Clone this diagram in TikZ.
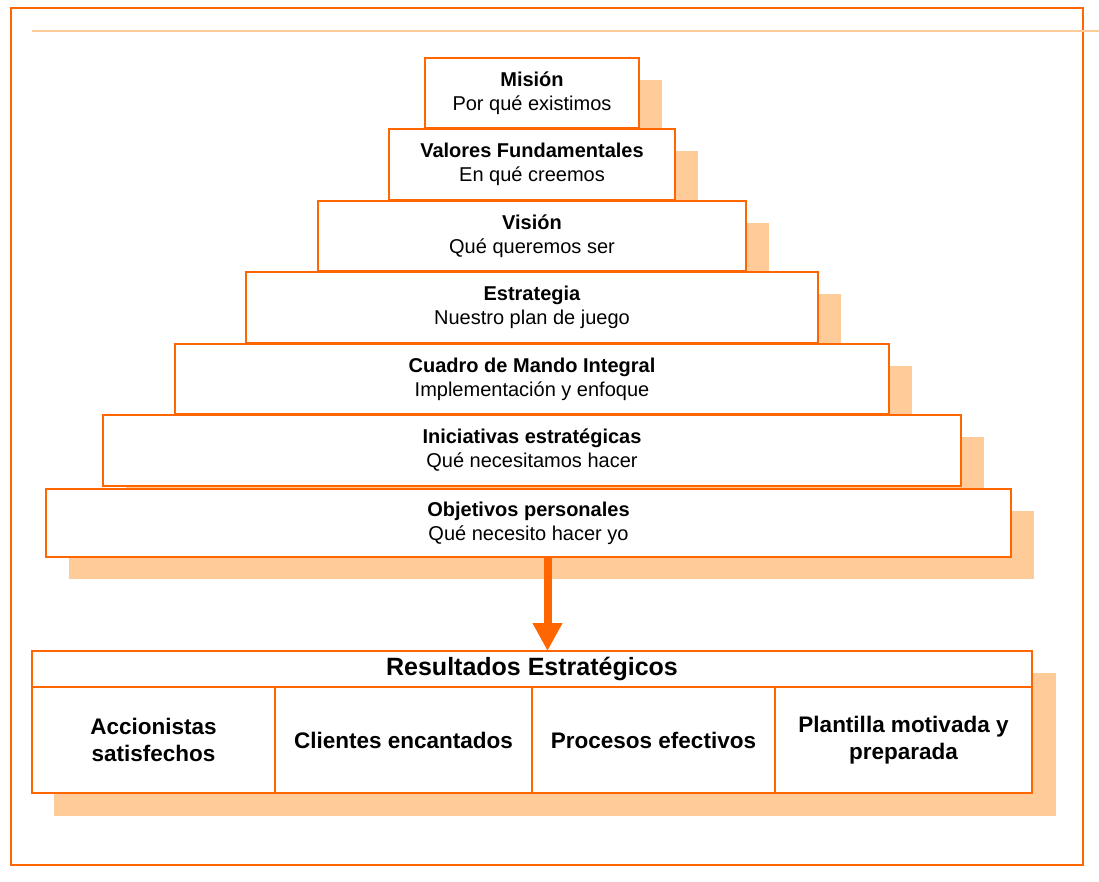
\documentclass[tikz,border=0pt]{standalone}
\usepackage{fontspec}
\setmainfont{Liberation Sans}
\usetikzlibrary{arrows.meta,backgrounds}
\definecolor{orng}{HTML}{FF6600}
\definecolor{peach}{HTML}{FFCC99}
\tikzset{
  lvl/.style={draw=orng, line width=2.6pt, fill=white, align=center, inner sep=0pt, outer sep=0pt,
    font=\fontsize{20}{24}\selectfont},
  res/.style={draw=orng, line width=2.6pt, fill=white, align=center, inner sep=0pt, outer sep=0pt,
    font=\fontsize{22.5}{27}\selectfont\bfseries},
  restitle/.style={res, font=\fontsize{25}{30}\selectfont\bfseries},
  shadowfill/.style={fill=peach},
  bigarrow/.style={draw=orng, line width=8pt, -{Triangle[width=28pt,length=28pt]}},
}
\newcommand{\lvlshadow}[1]{%
  \begin{scope}[on background layer]
    \fill[shadowfill] ([shift={(23,22)}]#1.north west) rectangle ([shift={(23,22)}]#1.south east);
  \end{scope}}
\begin{document}
\begin{tikzpicture}[x=1pt,y=-1pt]
  \useasboundingbox (0,0) rectangle (1099,882);
  % frame and header rule
  \draw[orng, line width=2pt] (11,8) rectangle (1083,865);
  \draw[peach, line width=1.6pt] (32,31) -- (1099,31);

  % pyramid levels, top to bottom
  \node[lvl, minimum width=214pt, minimum height=70pt] (mision) at (532,93)
    {\textbf{Misión}\\Por qué existimos};
  \lvlshadow{mision}
  \node[lvl, minimum width=286pt, minimum height=71pt] (valores) at (532,164.5)
    {\textbf{Valores Fundamentales}\\En qué creemos};
  \lvlshadow{valores}
  \node[lvl, minimum width=428pt, minimum height=70pt] (vision) at (532,236)
    {\textbf{Visión}\\Qué queremos ser};
  \lvlshadow{vision}
  \node[lvl, minimum width=572pt, minimum height=71pt] (estrategia) at (532,307.5)
    {\textbf{Estrategia}\\Nuestro plan de juego};
  \lvlshadow{estrategia}
  \node[lvl, minimum width=714pt, minimum height=70pt] (cmi) at (532,379)
    {\textbf{Cuadro de Mando Integral}\\Implementación y enfoque};
  \lvlshadow{cmi}
  \node[lvl, minimum width=858pt, minimum height=71pt] (iniciativas) at (532,450.5)
    {\textbf{Iniciativas estratégicas}\\Qué necesitamos hacer};
  \lvlshadow{iniciativas}
  \node[lvl, minimum width=965pt, minimum height=68pt] (objetivos) at (528.5,523)
    {\textbf{Objetivos personales}\\Qué necesito hacer yo};
  \lvlshadow{objetivos}

  % results table
  \node[restitle, minimum width=1000pt, minimum height=36pt] (title) at (532,669)
    {Resultados Estratégicos};
  \node[res, minimum width=243pt, minimum height=106pt] (c1) at (153.5,740)
    {Accionistas\\satisfechos};
  \node[res, minimum width=257pt, minimum height=106pt] (c2) at (403.5,740)
    {Clientes encantados};
  \node[res, minimum width=243pt, minimum height=106pt] (c3) at (653.5,740)
    {Procesos efectivos};
  \node[res, minimum width=257pt, minimum height=106pt] (c4) at (903.5,740)
    {Plantilla motivada y\\preparada};
  \begin{scope}[on background layer]
    \fill[shadowfill] ([shift={(22,22)}]title.north west) rectangle ([shift={(24,23)}]c4.south east);
  \end{scope}

  % arrow from personal objectives to results
  \draw[bigarrow] ([xshift=19pt]objetivos.south) -- ([xshift=19pt]objetivos.south |- title.north);
\end{tikzpicture}
\end{document}
